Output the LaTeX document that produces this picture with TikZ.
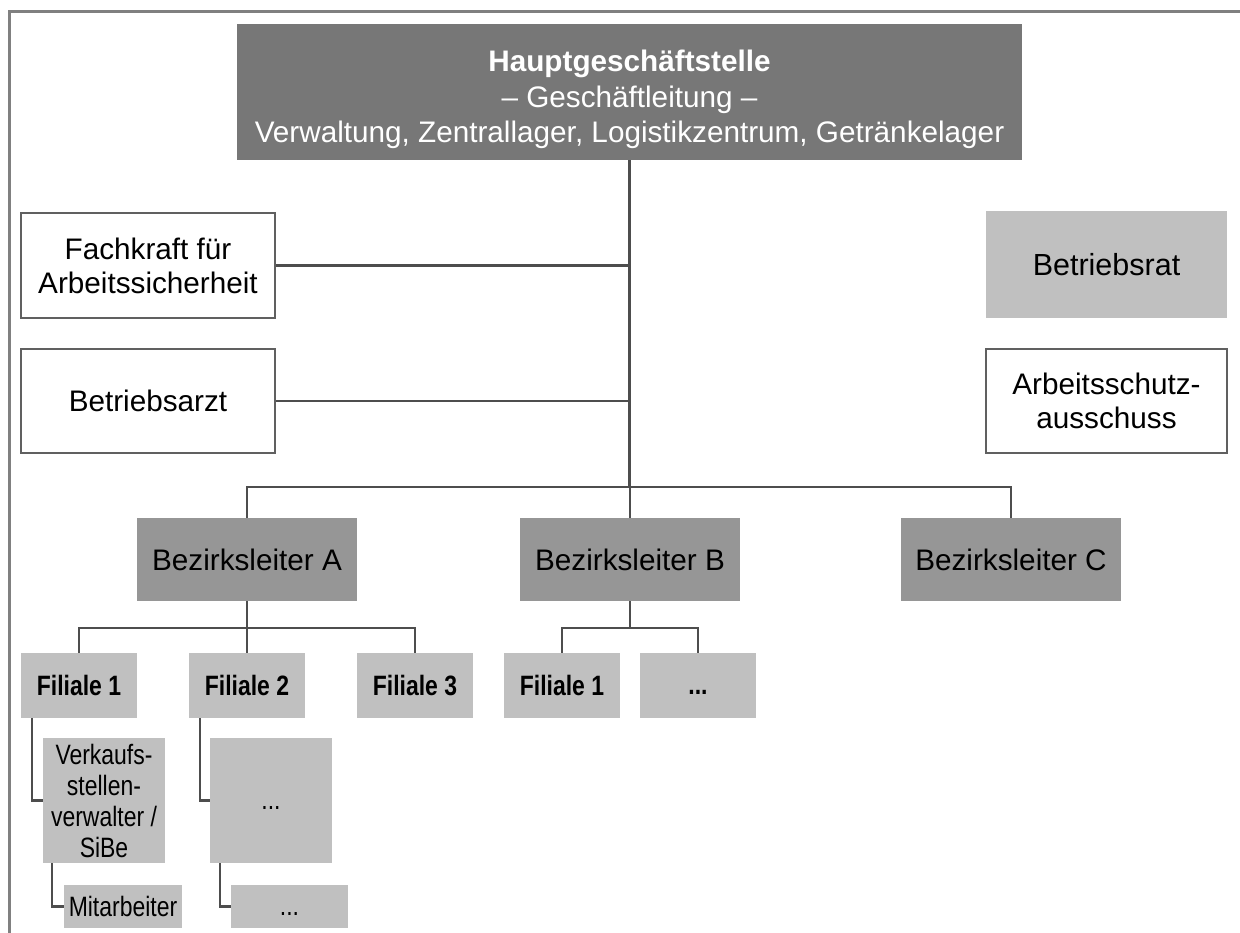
\documentclass[tikz,border=0pt]{standalone}
\usepackage{fontspec}
\setmainfont{Liberation Sans}
\newfontfamily\narrowfont[FakeStretch=0.82]{Liberation Sans}
\definecolor{headgray}{HTML}{777777}
\definecolor{midgray}{HTML}{969696}
\definecolor{lightgray}{HTML}{C0C0C0}
\definecolor{linegray}{HTML}{4D4D4D}
\definecolor{framegray}{HTML}{808080}
\definecolor{edgegray}{HTML}{606060}
\tikzset{
  box/.style={inner sep=0pt, align=center, font=\fontsize{29.7}{34}\selectfont},
  headbox/.style={box, fill=headgray, text=white, minimum width=785, minimum height=136,
    font=\fontsize{29.7}{35.5}\selectfont},
  whitebox/.style={box, draw=edgegray, line width=2pt, fill=white},
  lightbox/.style={box, fill=lightgray},
  districtbox/.style={box, fill=midgray, minimum width=220, minimum height=83},
  branchbox/.style={inner sep=0pt, align=center, fill=lightgray, minimum width=116, minimum height=65,
    font=\narrowfont\bfseries\fontsize{28}{30}\selectfont},
  subbox/.style={inner sep=0pt, align=center, fill=lightgray,
    font=\narrowfont\fontsize{28}{31}\selectfont},
  dots/.style={text height=18pt, text depth=0pt},
  link/.style={draw=linegray, line width=2.4pt},
}
\begin{document}
\begin{tikzpicture}[x=1pt, y=-1pt]
\useasboundingbox (0,0) rectangle (1240,933);

% outer frame (top and left edges)
\draw[framegray, line width=3pt] (9,933) -- (9,11.5) -- (1240,11.5);

% head office
\node[headbox] (top) at (629.5,92)
  {\rule{0pt}{37pt}\textbf{Hauptgeschäftstelle}\\– Geschäftleitung –\\Verwaltung, Zentrallager, Logistikzentrum, Getränkelager};

% staff functions
\node[whitebox, minimum width=254, minimum height=105] (fk) at (148,265.5) {Fachkraft für\\Arbeitssicherheit};
\node[whitebox, minimum width=254, minimum height=104] (ba) at (148,401) {Betriebsarzt};
\node[lightbox, minimum width=241, minimum height=107, font=\fontsize{30.5}{35}\selectfont] (br) at (1106.5,264.5) {Betriebsrat};
\node[whitebox, minimum width=241, minimum height=104] (aa) at (1106.5,401) {Arbeitsschutz-\\ausschuss};

% district managers
\node[districtbox] (bA) at (247,559.5) {Bezirksleiter A};
\node[districtbox] (bB) at (630,559.5) {Bezirksleiter B};
\node[districtbox] (bC) at (1011,559.5) {Bezirksleiter C};

% branches
\node[branchbox] (fA1) at (79,685.5) {Filiale 1};
\node[branchbox] (fA2) at (247,685.5) {Filiale 2};
\node[branchbox] (fA3) at (415,685.5) {Filiale 3};
\node[branchbox] (fB1) at (562,685.5) {Filiale 1};
\node[branchbox, dots] (fB2) at (698,685.5) {...};

% branch staff
\node[subbox, minimum width=122, minimum height=125] (vk) at (104,800.5) {Verkaufs-\\stellen-\\verwalter /\\SiBe};
\node[subbox, dots, minimum width=122, minimum height=125] (d2) at (271,800.5) {...};
\node[subbox, minimum width=118, minimum height=43] (ma) at (123,906.5) {Mitarbeiter};
\node[subbox, dots, minimum width=117, minimum height=43] (d3) at (289.5,906.5) {...};

% connectors
\coordinate (bar) at (629,487);
\coordinate (barA) at (247,628);
\coordinate (barB) at (630,628);

\draw[link] (top.south) -- (top.south |- bar);
\draw[link] (fk.east) -- (fk.east -| top.south);
\draw[link] (ba.east) -- (ba.east -| top.south);
\draw[link] (bA.north) -- (bA.north |- bar) -- (bC.north |- bar) -- (bC.north);
\draw[link] (bB.north |- bar) -- (bB.north);

\draw[link] (bA.south) -- (fA2.north);
\draw[link] (fA1.north) -- (fA1.north |- barA) -- (fA3.north |- barA) -- (fA3.north);

\draw[link] (bB.south) -- (barB);
\draw[link] (fB1.north) -- (fB1.north |- barB) -- (fB2.north |- barB) -- (fB2.north);

\draw[link] ([xshift=11]fA1.south west) |- (vk.west);
\draw[link] ([xshift=11]fA2.south west) |- (d2.west);
\draw[link] ([xshift=9]vk.south west) |- (ma.west);
\draw[link] ([xshift=10]d2.south west) |- (d3.west);
\end{tikzpicture}
\end{document}
